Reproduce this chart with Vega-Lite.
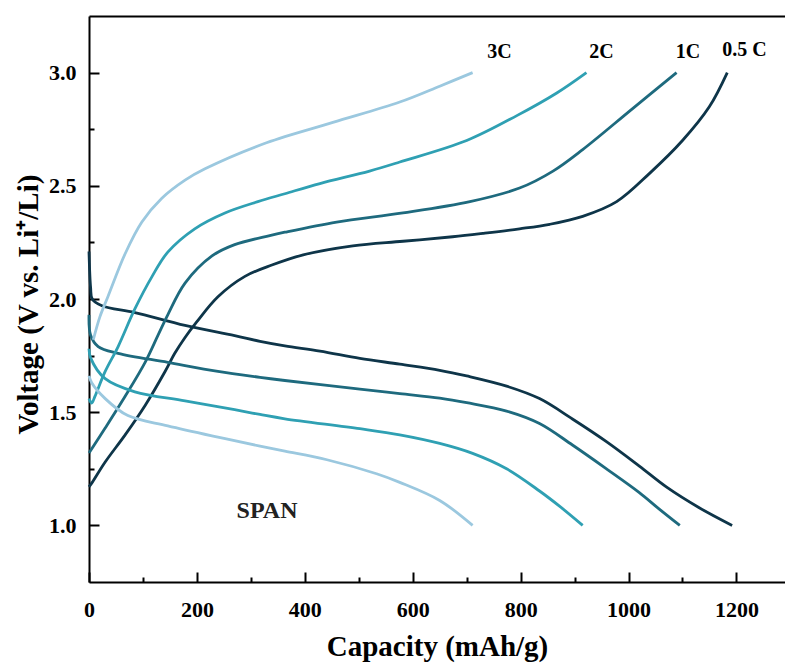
{
  "$schema": "https://vega.github.io/schema/vega-lite/v6.json",
  "width": 696,
  "height": 566,
  "autosize": "none",
  "padding": {"left": 89, "top": 16, "right": 0, "bottom": 87},
  "background": "white",
  "config": {"view": {"stroke": null}, "font": "Liberation Serif, Times New Roman, serif", "axis": {"grid": false, "domainColor": "black", "tickColor": "black", "labelColor": "black", "titleColor": "black"}},
  "datasets": {
    "curves": [
      {"rate":"0.5C","branch":"d","x":0,"y":2.21},{"rate":"0.5C","branch":"d","x":3,"y":2.05},{"rate":"0.5C","branch":"d","x":6,"y":2.0},{"rate":"0.5C","branch":"d","x":24,"y":1.97},{"rate":"0.5C","branch":"d","x":85,"y":1.94},{"rate":"0.5C","branch":"d","x":178,"y":1.883},{"rate":"0.5C","branch":"d","x":270,"y":1.838},{"rate":"0.5C","branch":"d","x":317,"y":1.813},{"rate":"0.5C","branch":"d","x":363,"y":1.793},{"rate":"0.5C","branch":"d","x":428,"y":1.77},{"rate":"0.5C","branch":"d","x":502,"y":1.738},{"rate":"0.5C","branch":"d","x":576,"y":1.712},{"rate":"0.5C","branch":"d","x":650,"y":1.685},{"rate":"0.5C","branch":"d","x":700,"y":1.66},{"rate":"0.5C","branch":"d","x":774,"y":1.615},{"rate":"0.5C","branch":"d","x":835,"y":1.56},{"rate":"0.5C","branch":"d","x":896,"y":1.47},{"rate":"0.5C","branch":"d","x":959,"y":1.37},{"rate":"0.5C","branch":"d","x":1020,"y":1.262},{"rate":"0.5C","branch":"d","x":1070,"y":1.17},{"rate":"0.5C","branch":"d","x":1131,"y":1.078},{"rate":"0.5C","branch":"d","x":1192,"y":1.0},
      {"rate":"0.5C","branch":"c","x":0,"y":1.17},{"rate":"0.5C","branch":"c","x":6,"y":1.19},{"rate":"0.5C","branch":"c","x":30,"y":1.28},{"rate":"0.5C","branch":"c","x":67,"y":1.40},{"rate":"0.5C","branch":"c","x":104,"y":1.53},{"rate":"0.5C","branch":"c","x":141,"y":1.68},{"rate":"0.5C","branch":"c","x":159,"y":1.76},{"rate":"0.5C","branch":"c","x":178,"y":1.83},{"rate":"0.5C","branch":"c","x":200,"y":1.90},{"rate":"0.5C","branch":"c","x":239,"y":2.01},{"rate":"0.5C","branch":"c","x":289,"y":2.10},{"rate":"0.5C","branch":"c","x":339,"y":2.15},{"rate":"0.5C","branch":"c","x":397,"y":2.195},{"rate":"0.5C","branch":"c","x":489,"y":2.235},{"rate":"0.5C","branch":"c","x":582,"y":2.255},{"rate":"0.5C","branch":"c","x":674,"y":2.275},{"rate":"0.5C","branch":"c","x":730,"y":2.29},{"rate":"0.5C","branch":"c","x":798,"y":2.31},{"rate":"0.5C","branch":"c","x":854,"y":2.33},{"rate":"0.5C","branch":"c","x":915,"y":2.365},{"rate":"0.5C","branch":"c","x":978,"y":2.43},{"rate":"0.5C","branch":"c","x":1039,"y":2.555},{"rate":"0.5C","branch":"c","x":1100,"y":2.70},{"rate":"0.5C","branch":"c","x":1150,"y":2.85},{"rate":"0.5C","branch":"c","x":1183,"y":3.0},
      {"rate":"1C","branch":"d","x":0,"y":1.93},{"rate":"1C","branch":"d","x":3,"y":1.84},{"rate":"1C","branch":"d","x":17,"y":1.79},{"rate":"1C","branch":"d","x":54,"y":1.76},{"rate":"1C","branch":"d","x":146,"y":1.72},{"rate":"1C","branch":"d","x":239,"y":1.68},{"rate":"1C","branch":"d","x":317,"y":1.654},{"rate":"1C","branch":"d","x":363,"y":1.64},{"rate":"1C","branch":"d","x":502,"y":1.602},{"rate":"1C","branch":"d","x":576,"y":1.582},{"rate":"1C","branch":"d","x":650,"y":1.562},{"rate":"1C","branch":"d","x":700,"y":1.542},{"rate":"1C","branch":"d","x":774,"y":1.505},{"rate":"1C","branch":"d","x":835,"y":1.45},{"rate":"1C","branch":"d","x":896,"y":1.355},{"rate":"1C","branch":"d","x":959,"y":1.25},{"rate":"1C","branch":"d","x":1020,"y":1.145},{"rate":"1C","branch":"d","x":1057,"y":1.072},{"rate":"1C","branch":"d","x":1095,"y":1.0},
      {"rate":"1C","branch":"c","x":0,"y":1.32},{"rate":"1C","branch":"c","x":30,"y":1.43},{"rate":"1C","branch":"c","x":67,"y":1.57},{"rate":"1C","branch":"c","x":104,"y":1.72},{"rate":"1C","branch":"c","x":128,"y":1.84},{"rate":"1C","branch":"c","x":146,"y":1.93},{"rate":"1C","branch":"c","x":178,"y":2.07},{"rate":"1C","branch":"c","x":228,"y":2.19},{"rate":"1C","branch":"c","x":270,"y":2.24},{"rate":"1C","branch":"c","x":335,"y":2.28},{"rate":"1C","branch":"c","x":363,"y":2.295},{"rate":"1C","branch":"c","x":459,"y":2.34},{"rate":"1C","branch":"c","x":582,"y":2.38},{"rate":"1C","branch":"c","x":706,"y":2.43},{"rate":"1C","branch":"c","x":798,"y":2.49},{"rate":"1C","branch":"c","x":860,"y":2.565},{"rate":"1C","branch":"c","x":915,"y":2.66},{"rate":"1C","branch":"c","x":1007,"y":2.84},{"rate":"1C","branch":"c","x":1089,"y":3.0},
      {"rate":"2C","branch":"d","x":0,"y":1.78},{"rate":"2C","branch":"d","x":3,"y":1.74},{"rate":"2C","branch":"d","x":30,"y":1.648},{"rate":"2C","branch":"d","x":85,"y":1.59},{"rate":"2C","branch":"d","x":178,"y":1.55},{"rate":"2C","branch":"d","x":270,"y":1.511},{"rate":"2C","branch":"d","x":317,"y":1.49},{"rate":"2C","branch":"d","x":363,"y":1.471},{"rate":"2C","branch":"d","x":502,"y":1.427},{"rate":"2C","branch":"d","x":576,"y":1.40},{"rate":"2C","branch":"d","x":650,"y":1.362},{"rate":"2C","branch":"d","x":711,"y":1.318},{"rate":"2C","branch":"d","x":774,"y":1.25},{"rate":"2C","branch":"d","x":835,"y":1.152},{"rate":"2C","branch":"d","x":872,"y":1.085},{"rate":"2C","branch":"d","x":915,"y":1.0},
      {"rate":"2C","branch":"c","x":0,"y":1.56},{"rate":"2C","branch":"c","x":5,"y":1.54},{"rate":"2C","branch":"c","x":11,"y":1.57},{"rate":"2C","branch":"c","x":30,"y":1.68},{"rate":"2C","branch":"c","x":54,"y":1.79},{"rate":"2C","branch":"c","x":85,"y":1.956},{"rate":"2C","branch":"c","x":117,"y":2.10},{"rate":"2C","branch":"c","x":146,"y":2.207},{"rate":"2C","branch":"c","x":196,"y":2.31},{"rate":"2C","branch":"c","x":252,"y":2.38},{"rate":"2C","branch":"c","x":313,"y":2.43},{"rate":"2C","branch":"c","x":363,"y":2.465},{"rate":"2C","branch":"c","x":428,"y":2.51},{"rate":"2C","branch":"c","x":520,"y":2.565},{"rate":"2C","branch":"c","x":576,"y":2.605},{"rate":"2C","branch":"c","x":700,"y":2.70},{"rate":"2C","branch":"c","x":793,"y":2.81},{"rate":"2C","branch":"c","x":867,"y":2.91},{"rate":"2C","branch":"c","x":922,"y":3.0},
      {"rate":"3C","branch":"d","x":0,"y":1.66},{"rate":"3C","branch":"d","x":5,"y":1.63},{"rate":"3C","branch":"d","x":30,"y":1.56},{"rate":"3C","branch":"d","x":72,"y":1.485},{"rate":"3C","branch":"d","x":146,"y":1.44},{"rate":"3C","branch":"d","x":239,"y":1.39},{"rate":"3C","branch":"d","x":317,"y":1.35},{"rate":"3C","branch":"d","x":363,"y":1.328},{"rate":"3C","branch":"d","x":441,"y":1.29},{"rate":"3C","branch":"d","x":533,"y":1.228},{"rate":"3C","branch":"d","x":576,"y":1.19},{"rate":"3C","branch":"d","x":650,"y":1.11},{"rate":"3C","branch":"d","x":711,"y":1.0},
      {"rate":"3C","branch":"c","x":8,"y":1.82},{"rate":"3C","branch":"c","x":20,"y":1.92},{"rate":"3C","branch":"c","x":35,"y":2.01},{"rate":"3C","branch":"c","x":67,"y":2.20},{"rate":"3C","branch":"c","x":98,"y":2.34},{"rate":"3C","branch":"c","x":135,"y":2.445},{"rate":"3C","branch":"c","x":178,"y":2.525},{"rate":"3C","branch":"c","x":215,"y":2.575},{"rate":"3C","branch":"c","x":329,"y":2.69},{"rate":"3C","branch":"c","x":452,"y":2.78},{"rate":"3C","branch":"c","x":576,"y":2.87},{"rate":"3C","branch":"c","x":650,"y":2.94},{"rate":"3C","branch":"c","x":711,"y":3.0}
    ],
    "labels": [
      {"label":"3C","x":761,"y":3.09},
      {"label":"2C","x":950,"y":3.09},
      {"label":"1C","x":1110,"y":3.09},
      {"label":"0.5 C","x":1215,"y":3.10}
    ],
    "span": [{"label":"SPAN","x":330,"y":1.065}]
  },
  "layer": [
    {
      "data": {"name": "curves"},
      "mark": {"type": "line", "strokeWidth": 2.8, "interpolate": "catmull-rom"},
      "encoding": {
        "x": {"field": "x", "type": "quantitative", "scale": {"domain": [0, 1290], "nice": false, "zero": false},
          "axis": {"orient": "bottom", "values": [0,200,400,600,800,1000,1200], "format": "d", "tickSize": -10, "tickWidth": 2, "domainWidth": 2, "labelFont": "Liberation Serif, Times New Roman, serif", "labelFontWeight": "bold", "labelFontSize": 22, "labelPadding": 27, "labelFlush": false, "title": "Capacity (mAh/g)", "titleFont": "Liberation Serif, Times New Roman, serif", "titleFontWeight": "bold", "titleFontSize": 29, "titlePadding": 12}},
        "y": {"field": "y", "type": "quantitative", "scale": {"domain": [0.75, 3.25], "nice": false, "zero": false},
          "axis": {"orient": "left", "values": [1.0,1.5,2.0,2.5,3.0], "format": ".1f", "tickSize": -10, "tickWidth": 2, "domainWidth": 2, "labelFont": "Liberation Serif, Times New Roman, serif", "labelFontWeight": "bold", "labelFontSize": 22, "labelPadding": 23, "labelFlush": false, "title": "Voltage (V vs. Li⁺/Li)", "titleFont": "Liberation Serif, Times New Roman, serif", "titleFontWeight": "bold", "titleFontSize": 29, "titlePadding": 5, "titleY": 288}},
        "color": {"field": "rate", "type": "nominal", "scale": {"domain": ["0.5C","1C","2C","3C"], "range": ["#0e3549","#1e6a7e","#2fa0b3","#9bc8df"]}, "legend": null},
        "detail": {"field": "branch"}
      }
    },
    {
      "data": {"name": "labels"},
      "mark": {"type": "text", "font": "Liberation Serif, Times New Roman, serif", "fontWeight": "bold", "fontSize": 20, "color": "black", "align": "center", "baseline": "middle"},
      "encoding": {
        "x": {"field": "x", "type": "quantitative", "scale": {"domain": [0, 1290], "nice": false, "zero": false},
          "axis": {"orient": "top", "ticks": false, "labels": false, "domainWidth": 2, "title": null}},
        "y": {"field": "y", "type": "quantitative", "scale": {"domain": [0.75, 3.25], "nice": false, "zero": false},
          "axis": {"orient": "left", "values": [1.25,1.75,2.25,2.75], "tickSize": -5, "tickWidth": 2, "labels": false, "domain": false, "title": null}},
        "text": {"field": "label"}
      }
    },
    {
      "data": {"name": "span"},
      "mark": {"type": "text", "font": "Liberation Serif, Times New Roman, serif", "fontWeight": "bold", "fontSize": 24, "color": "#222", "align": "center", "baseline": "middle"},
      "encoding": {
        "x": {"field": "x", "type": "quantitative", "scale": {"domain": [0, 1290], "nice": false, "zero": false},
          "axis": {"orient": "bottom", "values": [100,300,500,700,900,1100], "tickSize": -5, "tickWidth": 2, "labels": false, "domain": false, "title": null}},
        "y": {"field": "y", "type": "quantitative", "scale": {"domain": [0.75, 3.25], "nice": false, "zero": false}, "axis": null},
        "text": {"field": "label"}
      }
    }
  ],
  "resolve": {"axis": {"x": "independent", "y": "independent"}}
}
